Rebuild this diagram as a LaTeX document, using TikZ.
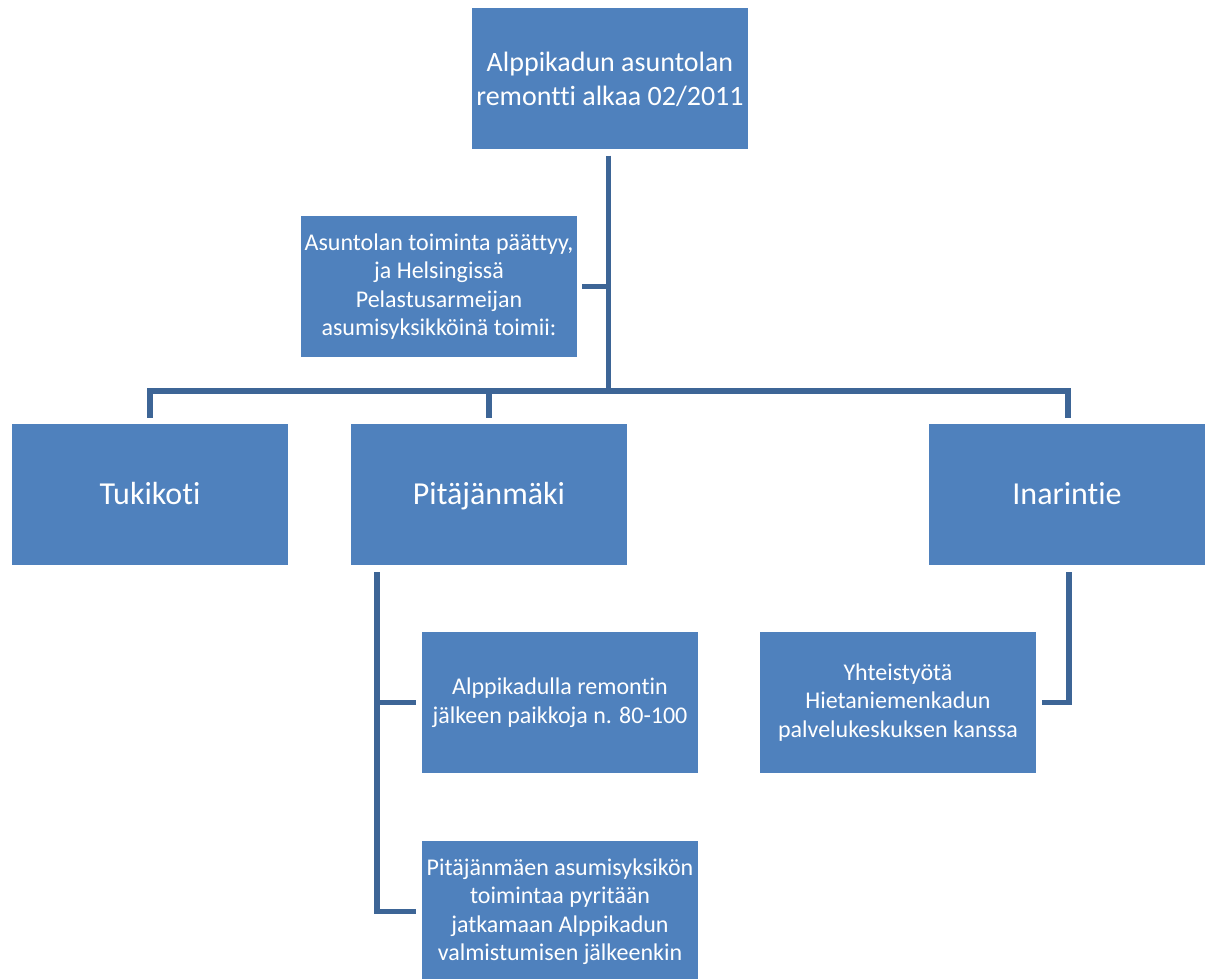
\documentclass[tikz,border=0pt]{standalone}
\usepackage{fontspec}
\setmainfont{Carlito}[Ligatures={NoCommon}]
\definecolor{boxblue}{HTML}{4F81BD}
\definecolor{lineblue}{RGB}{61,101,150}
\begin{document}
\begin{tikzpicture}[x=1pt,y=-1pt,
  box/.style={fill=boxblue, draw=none, minimum width=276pt, minimum height=141pt, inner sep=2pt, text=white, align=center},
  bigtext/.style={font=\fontsize{32}{38}\selectfont, text height=24pt, text depth=5pt},
  midtext/.style={font=\fontsize{28}{34}\selectfont},
  smalltext/.style={font=\fontsize{24}{28.5}\selectfont},
  conn/.style={draw=lineblue, line width=5.5pt, line cap=butt, line join=miter}]
\useasboundingbox (0,0) rectangle (1210,979);
\node[box, midtext] (top) at (610,79) {Alppikadun asuntolan\\remontti alkaa 02/2011};
\node[box, smalltext] (asunt) at (439,286.5) {Asuntolan toiminta päättyy,\\ja Helsingissä\\Pelastusarmeijan\\asumisyksikköinä toimii:};
\node[box, bigtext] (tuki) at (150,494.5) {Tukikoti};
\node[box, bigtext] (pita) at (489,494.5) {Pitäjänmäki};
\node[box, bigtext] (inari) at (1067,494.5) {Inarintie};
\node[box, smalltext] (alppi) at (560,702.5) {Alppikadulla remontin\\jälkeen paikkoja n. 80-100};
\node[box, smalltext] (pitaj) at (560,911.5) {Pitäjänmäen asumisyksikön\\toimintaa pyritään\\jatkamaan Alppikadun\\valmistumisen jälkeenkin};
\node[box, smalltext] (yht) at (898,702.5) {Yhteistyötä\\Hietaniemenkadun\\palvelukeskuksen kanssa};
\coordinate (busy) at (0,391);
% trunk
\draw[conn] ([xshift=-1.5pt,yshift=-6pt]top.south) -- ([xshift=-1.5pt]top.south |- busy);
\draw[conn] ([xshift=5pt]asunt.east) -- ([xshift=-1.5pt]top.south |- asunt.east);
% bus
\draw[conn] ([yshift=6pt]tuki.north) -- (tuki.north |- busy) -- ([xshift=1pt]inari.north |- busy) -- ([xshift=1pt,yshift=6pt]inari.north);
\draw[conn] (pita.north |- busy) -- ([yshift=6pt]pita.north);
% Pitäjänmäki children
\coordinate (pv) at ([xshift=26pt,yshift=-7pt]pita.south west);
\draw[conn] (pv) -- (pv |- pitaj.west) -- ([xshift=-6pt]pitaj.west);
\draw[conn] (pv |- alppi.west) -- ([xshift=-6pt]alppi.west);
% Inarintie child
\draw[conn] ([xshift=2pt,yshift=-7pt]inari.south) -- ([xshift=2pt]inari.south |- yht.east) -- ([xshift=6pt]yht.east);
\end{tikzpicture}
\end{document}
